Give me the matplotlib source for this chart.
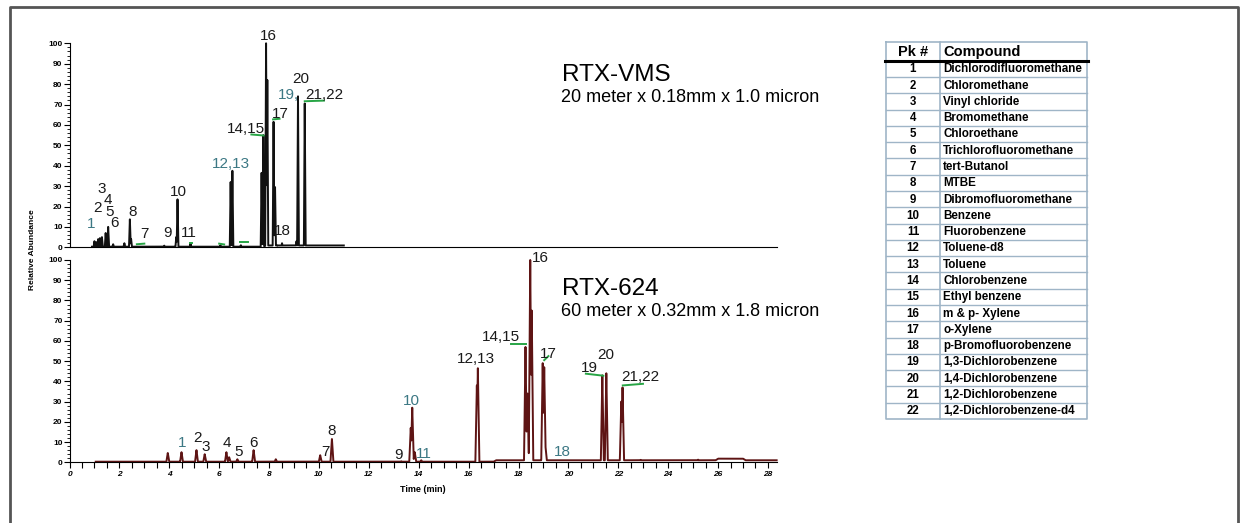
import numpy as np
import matplotlib
matplotlib.use("Agg")
import matplotlib.pyplot as plt
from matplotlib.ticker import MultipleLocator

plt.rcParams['font.family'] = ['Liberation Sans', 'DejaVu Sans']

# RTX-VMS (top) peaks: retention time (min), relative abundance
vms_t = [1.00, 1.08, 1.15, 1.22, 1.30, 1.45, 1.55, 1.75, 2.20, 2.42, 2.47, 3.80,
         4.28, 4.33, 4.85, 6.05, 6.46, 6.53, 6.87, 7.70, 7.77, 7.88, 7.93,
         8.18, 8.24, 8.33, 8.52, 9.10, 9.16, 9.43]
vms_h = [3.0, 2.5, 4.0, 4.5, 5.0, 7.0, 10.0, 1.5, 2.0, 13.7, 4.0, 0.8,
         5.0, 23.5, 2.0, 1.0, 32.0, 37.5, 1.0, 36.5, 55.0, 100.0, 82.0,
         61.5, 29.5, 1.0, 2.0, 3.0, 74.0, 70.5]
vms_base_t = [0.9, 7.8, 7.85, 11.0]
vms_base_v = [0.3, 0.3, 0.9, 0.9]

# RTX-624 (bottom) peaks
r624_t = [3.94, 4.49, 5.09, 5.42, 6.29, 6.40, 6.73, 7.38, 8.27, 10.05, 10.52,
          13.30, 13.68, 13.74, 13.84, 14.10, 16.33, 16.37, 18.28, 18.36, 18.47,
          18.53, 18.97, 19.03, 19.08, 21.36, 21.52, 22.12, 22.17, 22.90, 25.20,
          27.50, 28.00]
r624_h = [4.6, 5.0, 6.0, 4.0, 5.0, 2.5, 1.5, 6.0, 1.5, 3.5, 11.5,
          0.5, 17.0, 27.0, 5.0, 1.0, 38.0, 46.5, 57.0, 34.0, 100.0,
          75.0, 49.0, 47.0, 8.0, 43.0, 44.0, 30.0, 37.0, 1.2, 1.3,
          0.9, 0.9]
r624_base_t = [1.05, 17.0, 17.1, 25.9, 26.0, 27.0, 27.1, 28.35]
r624_base_v = [0.3, 0.3, 1.0, 1.0, 1.8, 1.8, 1.0, 1.0]

# peak labels: text, time, height, colour key
vms_labels = [("1", 0.88, 11.3, "t"), ("2", 1.11, 19.3, "k"), ("3", 1.28, 28.4, "k"),
              ("4", 1.52, 23.0, "k"), ("5", 1.62, 17.3, "k"), ("6", 1.82, 12.1, "k"),
              ("8", 2.55, 17.3, "k"), ("7", 3.02, 6.7, "k"), ("9", 3.91, 7.2, "k"),
              ("10", 4.35, 27.1, "k"), ("11", 4.78, 7.2, "k"), ("12,13", 6.49, 41.0, "t"),
              ("14,15", 7.09, 58.2, "k"), ("16", 7.96, 103.4, "k"), ("17", 8.47, 65.2, "k"),
              ("18", 8.53, 8.0, "k"), ("20", 9.27, 82.4, "k"), ("19,", 8.79, 74.5, "t"),
              ("21,22", 10.2, 74.5, "k")]
r624_labels = [("1", 4.53, 9.7, "t"), ("2", 5.14, 12.2, "k"), ("3", 5.46, 7.7, "k"),
               ("4", 6.32, 9.7, "k"), ("5", 6.77, 4.9, "k"), ("6", 7.37, 9.4, "k"),
               ("7", 10.26, 5.2, "k"), ("8", 10.5, 15.5, "k"), ("9", 13.18, 3.6, "k"),
               ("10", 13.69, 30.5, "t"), ("11", 14.19, 4.1, "t"), ("12,13", 16.29, 50.9, "k"),
               ("14,15", 17.31, 61.8, "k"), ("16", 18.88, 100.8, "k"), ("17", 19.19, 53.5, "k"),
               ("18", 19.75, 5.2, "t"), ("19", 20.86, 46.4, "k"), ("20", 21.49, 53.0, "k"),
               ("21,22", 22.9, 42.0, "k")]

# green leader dashes: (t_start, t_end, y_start, y_end)
vms_dashes = [(2.7, 3.0, 1.5, 1.8), (4.82, 4.9, 2.2, 2.2), (6.0, 6.2, 1.8, 1.4),
              (6.84, 7.17, 2.5, 2.5), (7.29, 7.78, 55.3, 54.8), (8.16, 8.42, 62.7, 63.0),
              (9.43, 10.2, 71.6, 71.9)]
r624_dashes = [(17.71, 18.3, 58.5, 58.5), (19.03, 19.2, 50.5, 52.5),
               (20.7, 21.4, 43.8, 42.8), (22.18, 22.99, 38.0, 38.8)]

pk_numbers = [str(i) for i in range(1, 23)]
compounds = ["Dichlorodifluoromethane", "Chloromethane", "Vinyl chloride",
             "Bromomethane", "Chloroethane", "Trichlorofluoromethane", "tert-Butanol",
             "MTBE", "Dibromofluoromethane", "Benzene", "Fluorobenzene", "Toluene-d8",
             "Toluene", "Chlorobenzene", "Ethyl benzene", "m & p- Xylene", "o-Xylene",
             "p-Bromofluorobenzene", "1,3-Dichlorobenzene", "1,4-Dichlorobenzene",
             "1,2-Dichlorobenzene", "1,2-Dichlorobenzene-d4"]

TEAL = "#3c7884"
GREEN = "#27a545"
colors = {"k": "#1a1a1a", "t": TEAL}


def build_trace(t_grid, pt, ph, hw, bt, bv):
    y = np.interp(t_grid, bt, bv, left=np.nan, right=np.nan)
    for t0, h in zip(pt, ph):
        tri = h * np.clip(1 - np.abs(t_grid - t0) / hw, 0, None)
        y = np.where(tri > np.nan_to_num(y), tri, y)
    return y


fig = plt.figure(figsize=(12.46, 5.23), dpi=100)

# pixel-coordinate overlay for frame and table
ov = fig.add_axes([0, 0, 1, 1], zorder=-1)
ov.set_xlim(0, 1246)
ov.set_ylim(523, 0)
ov.axis("off")
ov.plot([10, 10, 1238, 1238], [540, 7, 7, 540], color="#555555", lw=2)

xmax = 28.35
left = 69.5 / 1246
width = (776.7 - 69.5) / 1246
ax1 = fig.add_axes([left, 1 - 247.3 / 523, width, (247.3 - 43.3) / 523])
ax2 = fig.add_axes([left, 1 - 462.3 / 523, width, (462.3 - 260) / 523])

for ax in (ax1, ax2):
    ax.set_xlim(0, xmax)
    ax.set_ylim(0, 100)
    ax.spines["top"].set_visible(False)
    ax.spines["right"].set_visible(False)
    ax.yaxis.set_major_locator(MultipleLocator(10))
    ax.yaxis.set_minor_locator(MultipleLocator(2))
    ax.tick_params(axis="y", which="major", length=4, width=0.8, pad=1, labelsize=6)
    ax.tick_params(axis="y", which="minor", length=2.5, width=0.6)
    for lab in ax.get_yticklabels():
        lab.set_fontweight("bold")
    ax.patch.set_alpha(0)

ax1.tick_params(axis="x", which="both", bottom=False, labelbottom=False)
ax2.xaxis.set_major_locator(MultipleLocator(2))
ax2.xaxis.set_minor_locator(MultipleLocator(0.5))
ax2.tick_params(axis="x", which="both", length=4, width=0.8, pad=2, labelsize=6)
ax2.set_xticks(np.arange(0, 29, 2))
ax2.set_xticklabels([str(v) for v in range(0, 29, 2)], fontweight="bold", fontstyle="italic")

t_top = np.union1d(np.arange(0.8, 11.0, 0.004), vms_t)
y_top = build_trace(t_top, vms_t, vms_h, 0.035, vms_base_t, vms_base_v)
ax1.plot(t_top, y_top, color="#111111", lw=1.4, clip_on=False)

t_bot = np.union1d(np.arange(1.0, xmax, 0.004), r624_t)
y_bot = build_trace(t_bot, r624_t, r624_h, 0.06, r624_base_t, r624_base_v)
ax2.plot(t_bot, y_bot, color="#5e1414", lw=1.4, clip_on=False)

for ax, labels, dashes in ((ax1, vms_labels, vms_dashes), (ax2, r624_labels, r624_dashes)):
    for txt, tx, ty, c in labels:
        ax.text(tx, ty, txt, fontsize=11, color=colors[c], ha="center", va="center",
                clip_on=False)
    for x0, x1, y0, y1 in dashes:
        ax.plot([x0, x1], [y0, y1], color=GREEN, lw=1.4, clip_on=False)

ax1.text(0.696, 0.815, "RTX-VMS", transform=ax1.transAxes, fontsize=17.5,
         ha="left", va="baseline")
ax1.text(0.695, 0.713, "20 meter x 0.18mm x 1.0 micron", transform=ax1.transAxes,
         fontsize=13, ha="left", va="baseline")
ax2.text(0.696, 0.826, "RTX-624", transform=ax2.transAxes, fontsize=17.5,
         ha="left", va="baseline")
ax2.text(0.695, 0.722, "60 meter x 0.32mm x 1.8 micron", transform=ax2.transAxes,
         fontsize=13, ha="left", va="baseline")

fig.text(33 / 1246, 1 - 250 / 523, "Relative Abundance", rotation=90, fontsize=6,
         fontweight="bold", ha="center", va="center")
ax2.set_xlabel("Time (min)", fontsize=6.5, fontweight="bold", labelpad=5)

# compound table
tx0, tx1, tx2 = 886, 940, 1086.5
ty0, ty1, ty_end = 41.7, 60.7, 419.0
row_h = (ty_end - ty1) / len(compounds)
line_c = "#9fb5c7"
ov.plot([tx0, tx2, tx2, tx0, tx0], [ty0, ty0, ty_end, ty_end, ty0], color=line_c, lw=1.2)
ov.plot([tx1, tx1], [ty0, ty_end], color=line_c, lw=1.2)
for i in range(1, len(compounds)):
    ov.plot([tx0, tx2], [ty1 + i * row_h] * 2, color=line_c, lw=1.0)
ov.plot([tx0 - 1, tx2 + 1], [ty1, ty1], color="black", lw=2.2)
ov.text((tx0 + tx1) / 2, (ty0 + ty1) / 2 + 1, "Pk #", fontsize=10.5, fontweight="bold",
        ha="center", va="center")
ov.text(tx1 + 3, (ty0 + ty1) / 2 + 1, "Compound", fontsize=10.5, fontweight="bold",
        ha="left", va="center")
for i, (num, name) in enumerate(zip(pk_numbers, compounds)):
    yc = ty1 + (i + 0.5) * row_h + 0.5
    ov.text((tx0 + tx1) / 2, yc, num, fontsize=8.3, fontweight="bold", ha="center", va="center")
    ov.text(tx1 + 3, yc, name, fontsize=8.4, fontweight="bold", ha="left", va="center")

fig.savefig("out.png", dpi=100)
